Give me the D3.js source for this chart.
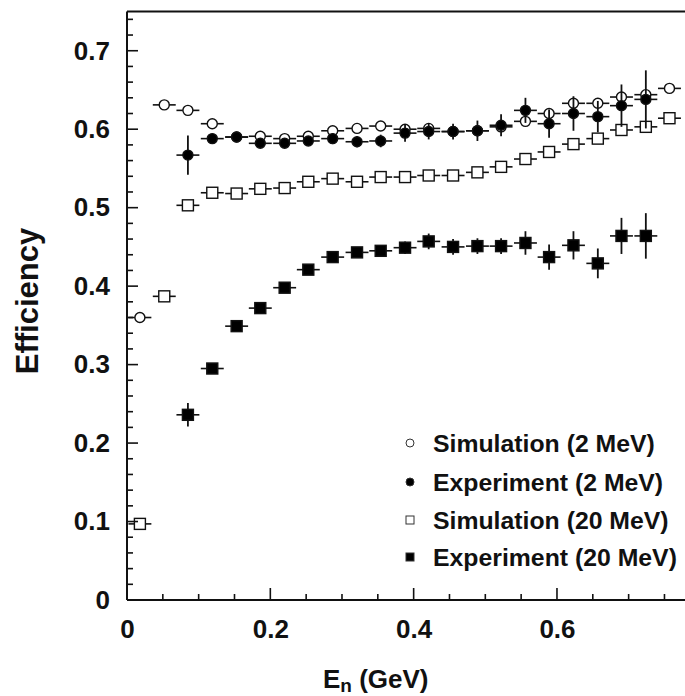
<!DOCTYPE html>
<html><head><meta charset="utf-8">
<script src="https://cdn.jsdelivr.net/npm/d3@7"></script>
<style>
html,body{margin:0;padding:0;background:#fff;}
svg{display:block;font-family:"Liberation Sans",Arial,Helvetica,sans-serif;font-weight:bold;}
</style></head>
<body>
<svg id="chart" width="685" height="696"></svg>
<script>
// ---- data ----
const energy = [0.018,0.052,0.085,0.119,0.153,0.186,0.220,0.253,0.287,0.321,0.354,0.388,0.421,0.455,0.489,0.522,0.556,0.589,0.623,0.657,0.690,0.724,0.757];
const simEff2  = [0.360,0.631,0.624,0.607,0.590,0.591,0.588,0.591,0.598,0.601,0.604,0.600,0.601,0.597,0.598,0.603,0.610,0.620,0.633,0.633,0.641,0.644,0.652];
const expEff2  = [null,null,0.567,0.588,0.590,0.582,0.582,0.585,0.588,0.584,0.585,0.595,0.597,0.597,0.598,0.605,0.624,0.607,0.620,0.616,0.630,0.638,null];
const expErr2  = [null,null,0.025,0.006,0.005,0.006,0.006,0.006,0.007,0.007,0.008,0.011,0.010,0.010,0.013,0.014,0.016,0.018,0.022,0.020,0.027,0.037,null];
const simEff20 = [0.097,0.387,0.503,0.519,0.518,0.524,0.525,0.533,0.537,0.533,0.539,0.539,0.541,0.541,0.545,0.552,0.562,0.571,0.581,0.588,0.599,0.603,0.614];
const expEff20 = [null,null,0.236,0.295,0.349,0.372,0.398,0.421,0.437,0.443,0.445,0.449,0.457,0.450,0.451,0.451,0.455,0.437,0.452,0.429,0.464,0.464,null];
const expErr20 = [null,null,0.015,0.006,0.005,0.005,0.005,0.006,0.006,0.006,0.007,0.008,0.010,0.010,0.010,0.010,0.015,0.016,0.018,0.019,0.023,0.029,null];
const binHalfWidth = 0.016;
const xTicks = [0, 0.2, 0.4, 0.6];
const yTicks = [0, 0.1, 0.2, 0.3, 0.4, 0.5, 0.6, 0.7];
const legendLabels = ["Simulation (2 MeV)", "Experiment (2 MeV)", "Simulation (20 MeV)", "Experiment (20 MeV)"];
const xTitle = "E", xTitleSub = "n", xTitleRest = " (GeV)";
const yTitle = "Efficiency";

// ---- layout ----
const svg = d3.select("#chart");
const x = d3.scaleLinear().domain([0, 0.8]).range([127, 700.3]);
const y = d3.scaleLinear().domain([0, 0.75]).range([600, 11.5]);

function mk(series, errs){
  return energy.map((e,i)=>({x:e, y:series[i], e: errs? errs[i] : 0})).filter(d=>d.y!=null);
}
const sets = [
  {key:"sim20", data: mk(simEff20), shape:"square", fill:"#fff"},
  {key:"exp20", data: mk(expEff20, expErr20), shape:"square", fill:"#000"},
  {key:"sim2",  data: mk(simEff2), shape:"circle", fill:"#fff"},
  {key:"exp2",  data: mk(expEff2, expErr2), shape:"circle", fill:"#000"}
];

const plot = svg.append("g");
sets.forEach(s=>{
  const g = plot.append("g").attr("class", s.key);
  const pts = g.selectAll("g.pt").data(s.data).join("g").attr("class","pt");
  pts.append("line")
    .attr("x1", d=>x(d.x-binHalfWidth)).attr("x2", d=>x(d.x+binHalfWidth))
    .attr("y1", d=>y(d.y)).attr("y2", d=>y(d.y))
    .attr("stroke","#111").attr("stroke-width",1.6);
  pts.filter(d=>d.e>0).append("line")
    .attr("x1", d=>x(d.x)).attr("x2", d=>x(d.x))
    .attr("y1", d=>y(d.y-d.e)).attr("y2", d=>y(d.y+d.e))
    .attr("stroke","#111").attr("stroke-width",1.8);
  if (s.shape==="circle"){
    pts.append("circle").attr("cx",d=>x(d.x)).attr("cy",d=>y(d.y)).attr("r",5)
      .attr("fill",s.fill).attr("stroke","#111").attr("stroke-width",1.4);
  } else {
    pts.append("rect").attr("x",d=>x(d.x)-5.5).attr("y",d=>y(d.y)-5.5)
      .attr("width",11).attr("height",11)
      .attr("fill",s.fill).attr("stroke","#111").attr("stroke-width",1.4);
  }
});

// ---- axes ----
const xAxis = d3.axisBottom(x).tickValues(xTicks).tickFormat(d=>d===0?"0":d3.format(".1f")(d)).tickSize(0).tickPadding(20);
const gx = svg.append("g").attr("transform","translate(0,600)").call(xAxis);
gx.select(".domain").remove();
gx.selectAll("text").attr("font-size",26).attr("font-weight","bold").attr("fill","#111")
  .attr("font-family","Liberation Sans, Arial, sans-serif");

const yAxis = d3.axisLeft(y).tickValues(yTicks).tickFormat(d=>d===0?"0":d3.format(".1f")(d)).tickSize(0).tickPadding(17);
const gy = svg.append("g").attr("transform","translate(127,0)").call(yAxis);
gy.select(".domain").remove();
gy.selectAll("text").attr("font-size",26).attr("font-weight","bold").attr("fill","#111")
  .attr("font-family","Liberation Sans, Arial, sans-serif");

// ticks (inward)
const xMinor = d3.range(0, 0.81, 0.05);
svg.append("g").selectAll("line").data(xMinor).join("line")
  .attr("x1",d=>x(d)).attr("x2",d=>x(d))
  .attr("y1",600).attr("y2",d=>Math.abs(d/0.2-Math.round(d/0.2))<1e-6?588:594)
  .attr("stroke","#111").attr("stroke-width",1.6);
const yMinor = d3.range(0, 0.751, 0.02);
svg.append("g").selectAll("line").data(yMinor).join("line")
  .attr("y1",d=>y(d)).attr("y2",d=>y(d))
  .attr("x1",127).attr("x2",d=>Math.abs(d/0.1-Math.round(d/0.1))<1e-6?138:133)
  .attr("stroke","#111").attr("stroke-width",1.6);

// frame
svg.append("line").attr("x1",127).attr("x2",700).attr("y1",600).attr("y2",600).attr("stroke","#111").attr("stroke-width",2);
svg.append("line").attr("x1",127).attr("x2",127).attr("y1",11.5).attr("y2",600).attr("stroke","#111").attr("stroke-width",2);
svg.append("line").attr("x1",127).attr("x2",700).attr("y1",11.5).attr("y2",11.5).attr("stroke","#111").attr("stroke-width",2);

// axis titles
const xt = svg.append("text").attr("x",323).attr("y",688).attr("font-size",26).attr("fill","#111");
xt.append("tspan").text(xTitle);
xt.append("tspan").attr("font-size",19).attr("dy",4).text(xTitleSub);
xt.append("tspan").attr("dy",-4).text(xTitleRest);

svg.append("text").attr("transform","translate(38,301) rotate(-90)")
  .attr("text-anchor","middle").attr("font-size",31).attr("fill","#111").text(yTitle);

// legend
const legend = svg.append("g");
const lgY = [443, 482, 520, 557];
const lgShapes = [["circle","#fff"],["circle","#000"],["square","#fff"],["square","#000"]];
legendLabels.forEach((lab,i)=>{
  const [shape, fill] = lgShapes[i];
  if (shape==="circle") legend.append("circle").attr("cx",410).attr("cy",lgY[i]).attr("r",4)
      .attr("fill",fill).attr("stroke","#333").attr("stroke-width",1);
  else legend.append("rect").attr("x",406).attr("y",lgY[i]-4).attr("width",8).attr("height",8)
      .attr("fill",fill).attr("stroke","#333").attr("stroke-width",1);
  legend.append("text").attr("x",433).attr("y",lgY[i]+9).attr("font-size",24.8).attr("fill","#111").text(lab);
});
</script>
</body></html>
